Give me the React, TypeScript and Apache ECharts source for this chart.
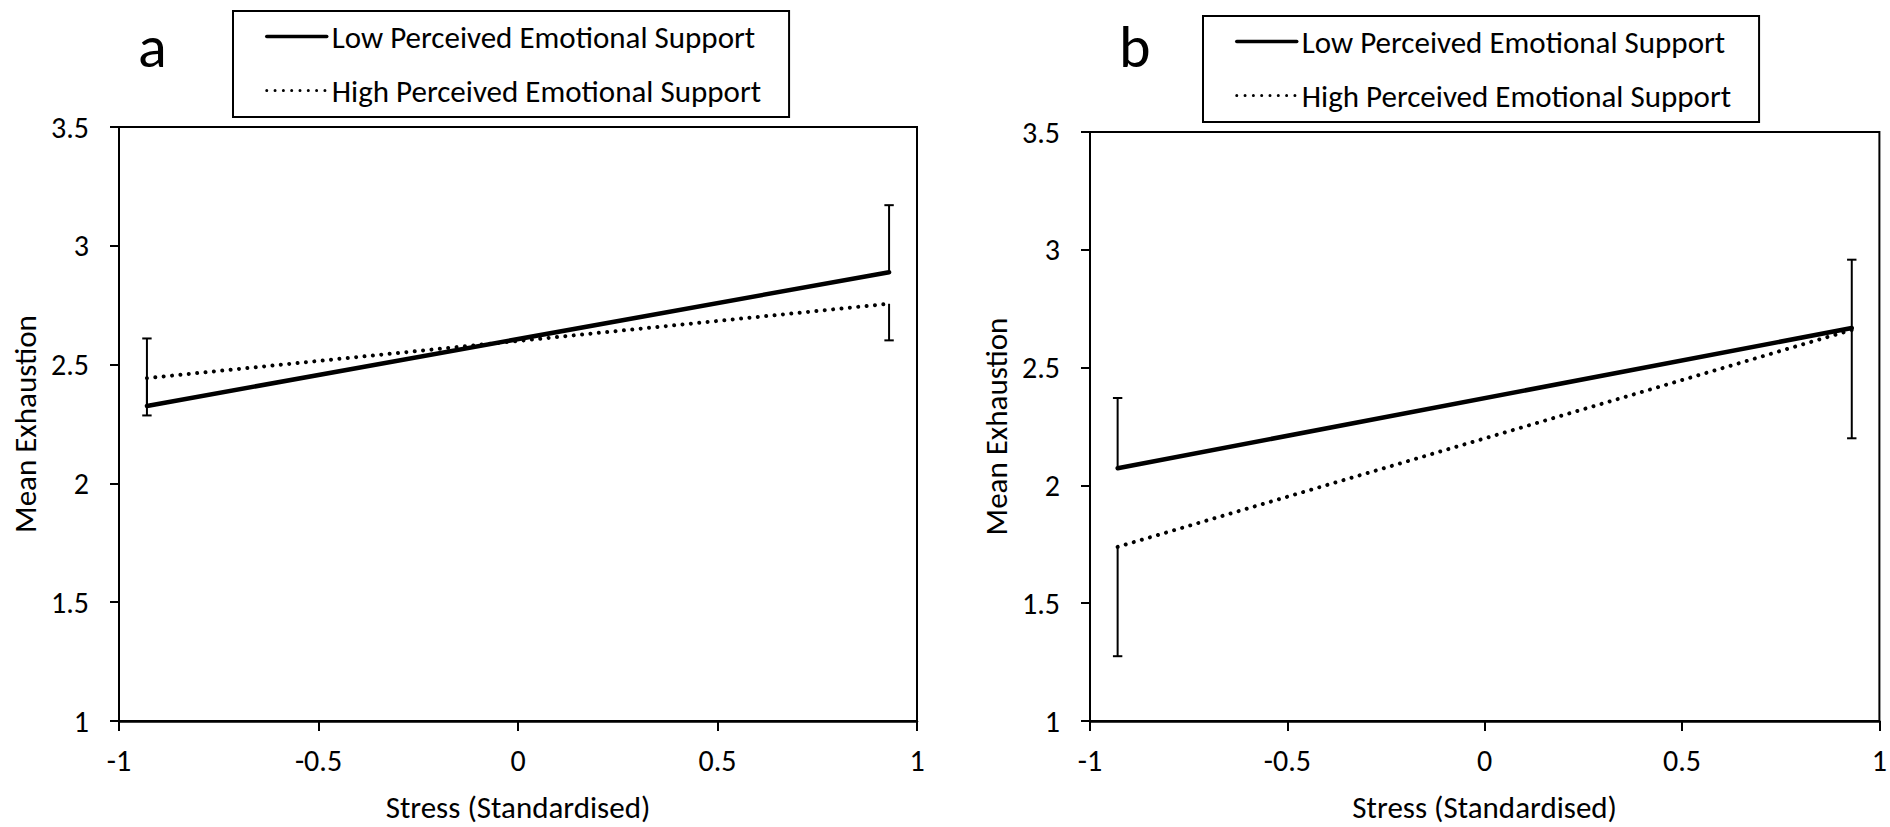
import React, { useEffect, useRef } from "react";
import * as echarts from "echarts";

// ---------- data ----------
const panelLabels = ["a", "b"];
const seriesNames = ["Low Perceived Emotional Support", "High Perceived Emotional Support"];
const xTitle = "Stress (Standardised)";
const yTitle = "Mean Exhaustion";
const stressLevels = [-0.93, 0.93];
// panel a
const lowA = [2.326, 2.889];
const highA = [2.443, 2.756];
const lowAErrPlus = [0.284, 0.282];
const highAErrMinus = [0.157, 0.154];
// panel b
const lowB = [2.073, 2.668];
const highB = [1.739, 2.66];
const lowBErrPlus = [0.298, 0.29];
const highBErrMinus = [0.464, 0.46];
// axes
const xMin = -1;
const xMax = 1;
const xStep = 0.5;
const yMin = 1;
const yMax = 3.5;
const yStep = 0.5;

const FONT = "Carlito, Lato, 'Open Sans', sans-serif";
const FS = 30;
const FS_TITLE = 31;

const renderErr = (params: any, api: any) => {
  const x = api.value(0);
  const y = api.value(1);
  const e = api.value(2);
  const p0 = api.coord([x, y]);
  const p1 = api.coord([x, y + e]);
  const cap = 4.7;
  const st = { stroke: "#000", lineWidth: 2 };
  return {
    type: "group",
    children: [
      { type: "line", shape: { x1: p0[0], y1: p0[1], x2: p1[0], y2: p1[1] }, style: st },
      { type: "line", shape: { x1: p1[0] - cap, y1: p1[1], x2: p1[0] + cap, y2: p1[1] }, style: st },
    ],
  };
};

function pts(ys: number[]) {
  return stressLevels.map((x, i) => [x, ys[i]]);
}
function errs(ys: number[], e: number[], sign: number) {
  return stressLevels.map((x, i) => [x, ys[i], sign * e[i]]);
}

export default function App() {
  const ref = useRef<HTMLDivElement>(null);
  useEffect(() => {
    if (!ref.current) return;
    const chart = echarts.init(ref.current, undefined, { renderer: "svg" });

    const grids = [
      { left: 119, top: 127, width: 798, height: 595 },
      { left: 1090, top: 132, width: 792, height: 591 },
    ];
    const xAxes = grids.map((_, i) => ({
      type: "value",
      gridIndex: i,
      min: xMin,
      max: xMax,
      interval: xStep,
      name: xTitle,
      nameLocation: "middle",
      nameGap: 70,
      nameTextStyle: { fontFamily: FONT, fontSize: FS_TITLE, color: "#000" },
      axisLine: { show: true, onZero: false, lineStyle: { color: "#000", width: 2.5 } },
      axisTick: { show: true, inside: false, length: 10, lineStyle: { color: "#000", width: 2 } },
      axisLabel: { fontFamily: FONT, fontSize: FS, color: "#000", margin: 24, lineHeight: 30 },
      splitLine: { show: false },
    }));
    const yAxes = grids.map((_, i) => ({
      type: "value",
      gridIndex: i,
      min: yMin,
      max: yMax,
      interval: yStep,
      name: yTitle,
      nameLocation: "middle",
      nameGap: 79,
      nameTextStyle: { fontFamily: FONT, fontSize: FS_TITLE, color: "#000" },
      axisLine: { show: true, onZero: false, lineStyle: { color: "#000", width: 2 } },
      axisTick: { show: true, inside: false, length: 9, lineStyle: { color: "#000", width: 2 } },
      axisLabel: { fontFamily: FONT, fontSize: FS, color: "#000", margin: 30 },
      splitLine: { show: false },
    }));

    const panels = [
      { low: lowA, high: highA, lowE: lowAErrPlus, highE: highAErrMinus },
      { low: lowB, high: highB, lowE: lowBErrPlus, highE: highBErrMinus },
    ];
    const series: any[] = [];
    panels.forEach((p, i) => {
      series.push({
        type: "custom",
        name: "err" + i,
        xAxisIndex: i,
        yAxisIndex: i,
        renderItem: renderErr,
        encode: { x: 0, y: 1 },
        data: [...errs(p.low, p.lowE, 1), ...errs(p.high, p.highE, -1)],
        z: 1,
        silent: true,
      });
      series.push({
        type: "line",
        name: seriesNames[0],
        xAxisIndex: i,
        yAxisIndex: i,
        data: pts(p.low),
        symbol: "none",
        lineStyle: { color: "#000", width: 4.5, type: "solid", cap: "round" },
        itemStyle: { color: "#000" },
        z: 3,
      });
      series.push({
        type: "line",
        name: seriesNames[1],
        xAxisIndex: i,
        yAxisIndex: i,
        data: pts(p.high),
        symbol: "none",
        lineStyle: { color: "#000", width: 4, type: [0.01, 8.4], cap: "round" },
        itemStyle: { color: "#000" },
        z: 3,
      });
    });

    const hiddenSymbol = { color: "rgba(0,0,0,0)", borderWidth: 0, opacity: 0 };
    const legendData = [
      { name: seriesNames[0], itemStyle: hiddenSymbol, lineStyle: { width: 3.5, type: "solid", color: "#000" } },
      { name: seriesNames[1], itemStyle: hiddenSymbol, lineStyle: { width: 3, type: [0.01, 8.3], cap: "round", color: "#000" } },
    ];
    const legendBase = {
      orient: "vertical",
      data: legendData,
      itemWidth: 60,
      itemHeight: 14,
      itemGap: 23,
      padding: [10, 28, 11, 32],
      borderColor: "#000",
      borderWidth: 2,
      borderRadius: 0,
      selectedMode: false,
      textStyle: { fontFamily: FONT, fontSize: FS_TITLE, color: "#000", lineHeight: 30 },
    };

    chart.setOption({
      animation: false,
      backgroundColor: "#fff",
      grid: grids.map((g) => ({ ...g, show: true, borderColor: "#000", borderWidth: 2, backgroundColor: "transparent", containLabel: false })),
      xAxis: xAxes,
      yAxis: yAxes,
      legend: [
        { ...legendBase, left: 233, top: 11 },
        { ...legendBase, left: 1203, top: 16 },
      ],
      graphic: [
        { type: "text", left: 138, top: 16, style: { text: panelLabels[0], fontFamily: FONT, fontSize: 60, fill: "#000" } },
        { type: "text", left: 1119, top: 16, style: { text: panelLabels[1], fontFamily: FONT, fontSize: 60, fill: "#000" } },
      ],
      series,
    });
    return () => chart.dispose();
  }, []);
  return <div ref={ref} style={{ position: "absolute", left: 0, top: 0, width: 1890, height: 827 }} />;
}
